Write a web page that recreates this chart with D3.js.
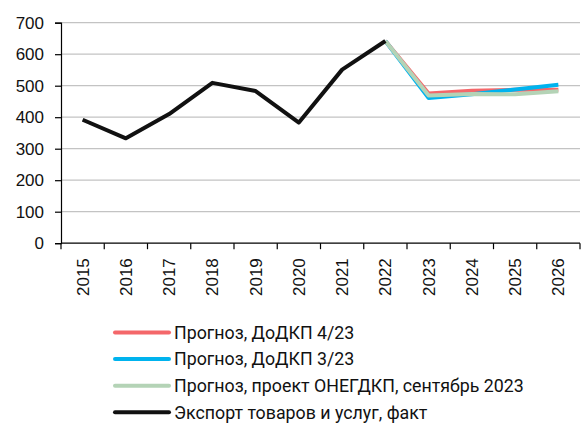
<!DOCTYPE html>
<html>
<head>
<meta charset="utf-8">
<script src="https://cdn.jsdelivr.net/npm/d3@7"></script>
<style>
  body { margin: 0; background: #fff; }
  svg { display: block; }
</style>
</head>
<body>
<div class="chart"></div>
<script>
'use strict';
var years = ['2015', '2016', '2017', '2018', '2019', '2020', '2021', '2022', '2023', '2024', '2025', '2026'];
var factYears = ['2015', '2016', '2017', '2018', '2019', '2020', '2021', '2022'];
var factValues = [392, 333, 410, 509, 483, 383, 551, 642];
var forecastYears = ['2022', '2023', '2024', '2025', '2026'];
var forecastApr = [642, 475, 484, 487, 487];
var forecastMar = [642, 461, 473, 488, 503];
var forecastOneg = [642, 469, 474, 473, 482];
var yTicks = [0, 100, 200, 300, 400, 500, 600, 700];
var legendLabels = [
  'Прогноз, ДоДКП 4/23',
  'Прогноз, ДоДКП 3/23',
  'Прогноз, проект ОНЕГДКП, сентябрь 2023',
  'Экспорт товаров и услуг, факт'
];
var colors = ['#f4676a', '#00b3ee', '#b4d3b6', '#111111'];

(function() {
  var width = 581, height = 426;
  var margin = {left: 61, right: 580, top: 22.7, bottom: 243.2};

  var svg = d3.select('.chart').append('svg')
    .attr('width', width)
    .attr('height', height);

  var x = d3.scaleBand().domain(years).range([margin.left, margin.right]).padding(0);
  var y = d3.scaleLinear().domain([0, 700]).range([margin.bottom, margin.top]);

  // grid
  svg.append('g')
    .selectAll('line')
    .data(yTicks.slice(1))
    .enter().append('line')
    .attr('x1', margin.left)
    .attr('x2', margin.right)
    .attr('y1', function(d) { return y(d); })
    .attr('y2', function(d) { return y(d); })
    .attr('stroke', '#c3c3c3')
    .attr('stroke-width', 1.2);

  // y axis
  var yAxis = svg.append('g')
    .attr('transform', 'translate(' + margin.left + ',0)')
    .call(d3.axisLeft(y).tickValues(yTicks).tickSize(6).tickPadding(11));
  yAxis.select('.domain').attr('stroke', '#000').attr('stroke-width', 1.2);
  yAxis.selectAll('.tick line').attr('stroke', '#000').attr('stroke-width', 1.2);
  yAxis.selectAll('text')
    .attr('font-family', 'Liberation Sans, Arial, sans-serif')
    .attr('font-size', 17)
    .attr('fill', '#111');

  // x axis, ticks on band edges
  var xAxis = svg.append('g')
    .attr('transform', 'translate(0,' + margin.bottom + ')');
  xAxis.append('line')
    .attr('x1', margin.left).attr('x2', margin.right)
    .attr('stroke', '#000').attr('stroke-width', 1.2);
  xAxis.selectAll('.edge')
    .data(years.concat(['end']))
    .enter().append('line')
    .attr('class', 'edge')
    .attr('x1', function(d) { return d === 'end' ? margin.right : x(d); })
    .attr('x2', function(d) { return d === 'end' ? margin.right : x(d); })
    .attr('y1', 0).attr('y2', 6)
    .attr('stroke', '#000').attr('stroke-width', 1.2);
  xAxis.selectAll('.lbl')
    .data(years)
    .enter().append('text')
    .attr('class', 'lbl')
    .attr('transform', function(d) {
      return 'translate(' + (x(d) + x.bandwidth() / 2) + ',15) rotate(-90)';
    })
    .attr('dy', '0.35em')
    .attr('text-anchor', 'end')
    .attr('font-family', 'Liberation Sans, Arial, sans-serif')
    .attr('font-size', 17)
    .attr('fill', '#111')
    .text(function(d) { return d; });

  var line = d3.line()
    .x(function(d) { return x(d[0]) + x.bandwidth() / 2; })
    .y(function(d) { return y(d[1]); });

  function drawSeries(ys, vals, color) {
    svg.append('path')
      .datum(d3.zip(ys, vals))
      .attr('d', line)
      .attr('fill', 'none')
      .attr('stroke', color)
      .attr('stroke-width', 4)
      .attr('stroke-linejoin', 'round');
  }

  drawSeries(forecastYears, forecastApr, colors[0]);
  drawSeries(forecastYears, forecastMar, colors[1]);
  drawSeries(forecastYears, forecastOneg, colors[2]);
  drawSeries(factYears, factValues, colors[3]);

  // legend
  var legend = svg.append('g').attr('transform', 'translate(115,332.5)');
  var item = legend.selectAll('g')
    .data(legendLabels)
    .enter().append('g')
    .attr('transform', function(d, i) { return 'translate(0,' + (i * 26.6) + ')'; });
  item.append('line')
    .attr('x1', 0).attr('x2', 54)
    .attr('stroke', function(d, i) { return colors[i]; })
    .attr('stroke-width', 4)
    .attr('stroke-linecap', 'round');
  item.append('text')
    .attr('x', 59)
    .attr('dy', '0.35em')
    .attr('font-family', 'Roboto, sans-serif')
    .attr('font-size', 17.8)
    .attr('fill', '#111')
    .text(function(d) { return d; });
})();
</script>
</body>
</html>
